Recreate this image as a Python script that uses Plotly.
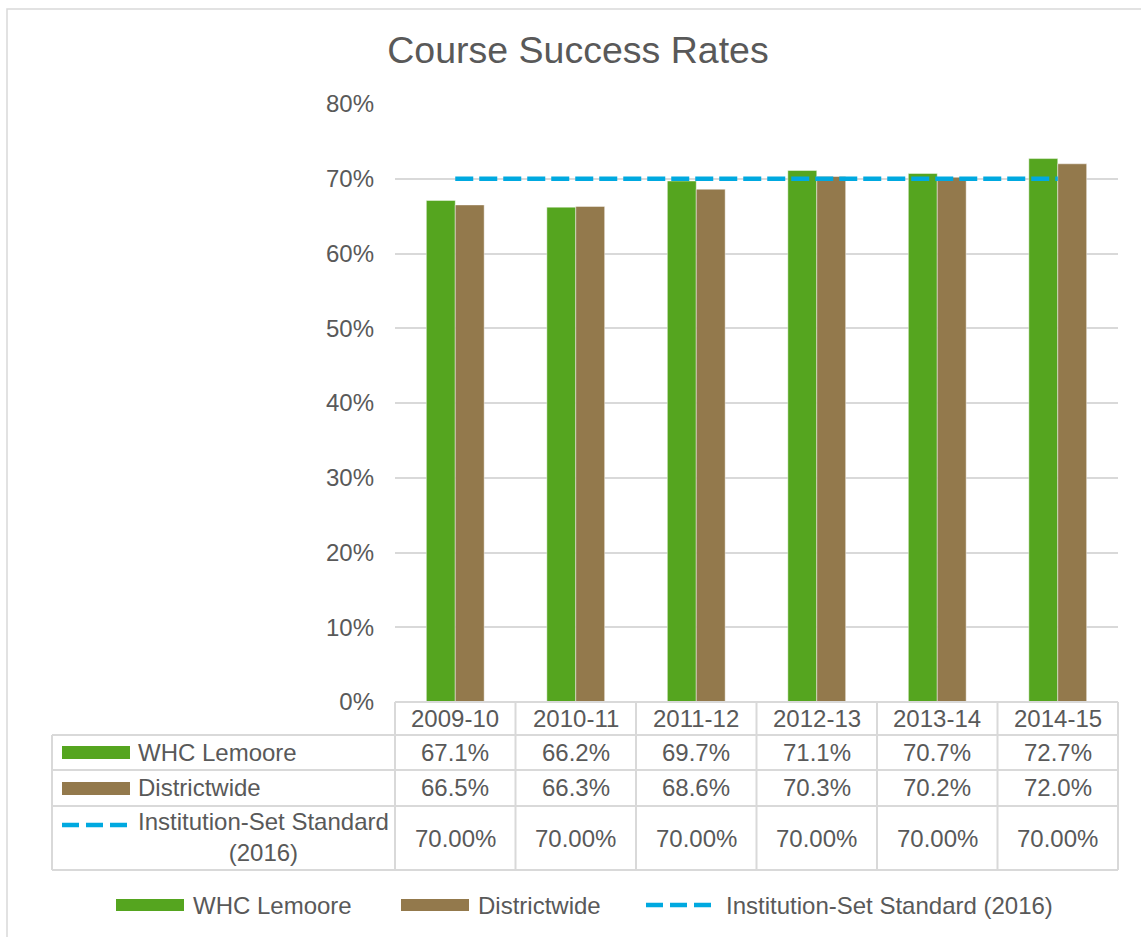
import plotly.graph_objects as go

# ---- data ----
categories = ["2009-10", "2010-11", "2011-12", "2012-13", "2013-14", "2014-15"]
whc_lemoore = [0.671, 0.662, 0.697, 0.711, 0.707, 0.727]
districtwide = [0.665, 0.663, 0.686, 0.703, 0.702, 0.720]
standard = [0.70, 0.70, 0.70, 0.70, 0.70, 0.70]
series_names = ["WHC Lemoore", "Districtwide", "Institution-Set Standard (2016)"]
table_labels = ["WHC Lemoore", "Districtwide", "Institution-Set Standard<br>(2016)"]
y_ticks = [0, 0.1, 0.2, 0.3, 0.4, 0.5, 0.6, 0.7, 0.8]

# ---- style ----
W, H = 1141, 937
L, R, T, B = 395, 1118, 104, 702
GREEN = "#55A51F"
BROWN = "#93794C"
BLUE = "#00A9E0"
GRID = "#D9D9D9"
TXT = "#595959"
FONT = "Liberation Sans, Arial, sans-serif"
FS = 24


def X(px):
    return (px - L) / (R - L)


def Y(py):
    return (B - py) / (B - T)


fig = go.Figure()
fig.add_trace(go.Bar(x=categories, y=whc_lemoore, name=series_names[0],
                     marker=dict(color=GREEN, line=dict(color="rgba(255,255,255,0.45)", width=1))))
fig.add_trace(go.Bar(x=categories, y=districtwide, name=series_names[1],
                     marker=dict(color=BROWN, line=dict(color="rgba(255,255,255,0.45)", width=1))))
fig.add_trace(go.Scatter(x=categories, y=standard, name=series_names[2], mode="lines",
                         line=dict(color=BLUE, width=4.5, dash="18px,6px")))

shapes = []
ann = []

# chart outer border
shapes.append(dict(type="rect", xref="paper", yref="paper", x0=X(7), x1=X(1160), y0=Y(960), y1=Y(9),
                   line=dict(color=GRID, width=1.5), layer="below"))

# data table grid
row_y = [702, 735, 770, 806, 870]
ncat = len(categories)
col_x = [L + (R - L) * k / ncat for k in range(ncat + 1)]
lc = dict(color=GRID, width=2)
shapes.append(dict(type="line", xref="paper", yref="paper", x0=X(L), x1=X(R), y0=Y(702), y1=Y(702), line=lc))
for yy in row_y[1:]:
    shapes.append(dict(type="line", xref="paper", yref="paper", x0=X(52), x1=X(R), y0=Y(yy), y1=Y(yy), line=lc))
shapes.append(dict(type="line", xref="paper", yref="paper", x0=X(52), x1=X(52), y0=Y(735), y1=Y(870), line=lc))
for cx in col_x:
    shapes.append(dict(type="line", xref="paper", yref="paper", x0=X(cx), x1=X(cx), y0=Y(702), y1=Y(870), line=lc))

# header row (categories) and values
row_centers = [(702 + 735) / 2, (735 + 770) / 2, (770 + 806) / 2, (806 + 870) / 2]
for i, c in enumerate(categories):
    ann.append(dict(x=c, xref="x", y=Y(row_centers[0]), yref="paper", text=c, showarrow=False,
                    xanchor="center", yanchor="middle"))
    ann.append(dict(x=c, xref="x", y=Y(row_centers[1]), yref="paper", text=f"{whc_lemoore[i]*100:.1f}%",
                    showarrow=False, xanchor="center", yanchor="middle"))
    ann.append(dict(x=c, xref="x", y=Y(row_centers[2]), yref="paper", text=f"{districtwide[i]*100:.1f}%",
                    showarrow=False, xanchor="center", yanchor="middle"))
    ann.append(dict(x=c, xref="x", y=Y(row_centers[3]), yref="paper", text=f"{standard[i]*100:.2f}%",
                    showarrow=False, xanchor="center", yanchor="middle"))

# table row labels with keys
shapes.append(dict(type="rect", xref="paper", yref="paper", x0=X(62), x1=X(130), y0=Y(759), y1=Y(746),
                   fillcolor=GREEN, line=dict(width=0)))
shapes.append(dict(type="rect", xref="paper", yref="paper", x0=X(62), x1=X(130), y0=Y(795), y1=Y(782),
                   fillcolor=BROWN, line=dict(width=0)))
shapes.append(dict(type="line", xref="paper", yref="paper", x0=X(62), x1=X(128), y0=Y(825), y1=Y(825),
                   line=dict(color=BLUE, width=4.5, dash="17px,7px")))
ann.append(dict(x=X(136), xref="paper", y=Y(row_centers[1]), yref="paper", text=table_labels[0],
                showarrow=False, xanchor="left", yanchor="middle"))
ann.append(dict(x=X(136), xref="paper", y=Y(row_centers[2]), yref="paper", text=table_labels[1],
                showarrow=False, xanchor="left", yanchor="middle"))
ann.append(dict(x=X(136), xref="paper", y=Y(row_centers[3] - 1), yref="paper", text=table_labels[2],
                showarrow=False, xanchor="left", yanchor="middle", align="center"))

# bottom legend
leg_y = 905
shapes.append(dict(type="rect", xref="paper", yref="paper", x0=X(116), x1=X(184), y0=Y(leg_y + 6), y1=Y(leg_y - 6),
                   fillcolor=GREEN, line=dict(width=0)))
shapes.append(dict(type="rect", xref="paper", yref="paper", x0=X(401), x1=X(469), y0=Y(leg_y + 6), y1=Y(leg_y - 6),
                   fillcolor=BROWN, line=dict(width=0)))
shapes.append(dict(type="line", xref="paper", yref="paper", x0=X(646), x1=X(714), y0=Y(leg_y), y1=Y(leg_y),
                   line=dict(color=BLUE, width=4.5, dash="17px,7px")))
for xpx, name in zip([191, 476, 724], series_names):
    ann.append(dict(x=X(xpx), xref="paper", y=Y(leg_y), yref="paper", text=name, showarrow=False,
                    xanchor="left", yanchor="middle"))

fig.update_layout(
    width=W, height=H,
    margin=dict(l=L, r=W - R, t=T, b=H - B, pad=0),
    paper_bgcolor="white", plot_bgcolor="white",
    font=dict(family=FONT, size=FS, color=TXT),
    title=dict(text="Course Success Rates", x=578 / W, xanchor="center", y=1 - 50 / H, yanchor="middle",
               xref="container", yref="container", font=dict(size=37.5, color=TXT, family=FONT)),
    barmode="group", bargap=0.52, bargroupgap=0,
    showlegend=False,
    shapes=shapes, annotations=ann,
    xaxis=dict(type="category", showticklabels=False, showgrid=False, zeroline=False, showline=False,
               ticks="", range=[-0.5, ncat - 0.5]),
    yaxis=dict(range=[0, 0.8], tickvals=y_ticks, tickformat=".0%", showgrid=True, gridcolor=GRID,
               gridwidth=1.5, zeroline=False, showline=False, ticks="", ticklabelstandoff=20,
               tickfont=dict(size=FS, color=TXT)),
)

fig.write_html("out.html", config={"displayModeBar": False},
               post_script="document.body.style.margin='0';document.body.style.padding='0';")
